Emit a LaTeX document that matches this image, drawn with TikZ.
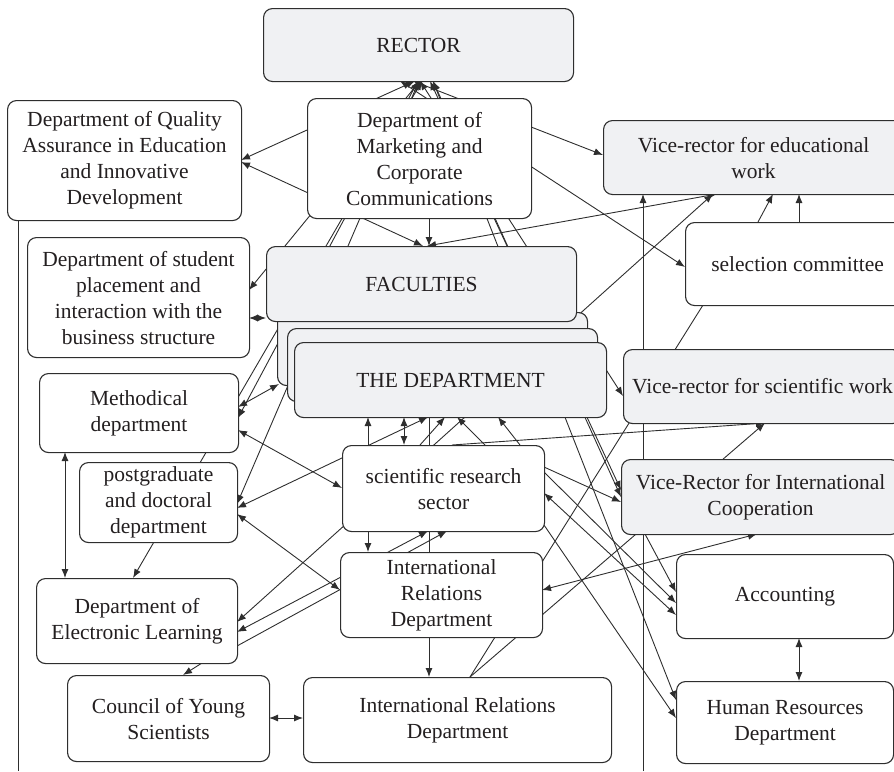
\documentclass[tikz,border=0pt]{standalone}
\usepackage{fontspec}
\setmainfont{Liberation Serif}
\usetikzlibrary{arrows.meta}
\pgfdeclarelayer{bg}
\pgfsetlayers{bg,main}
\definecolor{linec}{HTML}{2E2E2E}
\definecolor{boxgray}{HTML}{F0F1F3}
\definecolor{txt}{HTML}{231F20}
\newcommand\fsz{\fontsize{21.5}{26}\selectfont}
\begin{document}
\begin{tikzpicture}[x=1pt,y=-1pt,
  box/.style={draw=linec, line width=1.1pt, rounded corners=9pt, fill=white, align=center,
              font=\fsz, text=txt, inner sep=2pt, anchor=north west},
  gbox/.style={box, fill=boxgray},
  con/.style={draw=linec, line width=0.9pt},
  arr/.style={con, -{Latex[length=9pt,width=7pt]}},
  darr/.style={con, {Latex[length=9pt,width=7pt]}-{Latex[length=9pt,width=7pt]}}]
\useasboundingbox (0,0) rectangle (894,771);
% nodes
\node[gbox, minimum width=310pt, minimum height=73pt] (rector) at (263,8) {RECTOR};
\node[box, minimum width=224pt, minimum height=120pt] (mkt) at (307,98) {Department of\\Marketing and\\Corporate\\Communications};
\node[box, minimum width=234pt, minimum height=120pt] (qual) at (7,100) {Department of Quality\\Assurance in Education\\and Innovative\\Development};
\node[gbox, minimum width=300pt, minimum height=74pt] (vre) at (603,120) {Vice-rector for educational\\work};
\node[box, minimum width=224pt, minimum height=83pt] (sel) at (685,222) {selection committee};
\node[box, minimum width=222pt, minimum height=120pt] (place) at (27,237) {Department of student\\placement and\\interaction with the\\business structure};
\node[gbox, minimum width=310pt, minimum height=73pt] (st2) at (277,312) {};
\node[gbox, minimum width=310pt, minimum height=73pt] (st3) at (287,328) {};
\node[gbox, minimum width=312pt, minimum height=75pt] (dept) at (294,342) {THE DEPARTMENT};
\node[gbox, minimum width=310pt, minimum height=75pt] (fac) at (266,246) {FACULTIES};
\node[gbox, minimum width=278pt, minimum height=74pt] (vrs) at (623,349) {Vice-rector for scientific work};
\node[box, minimum width=199pt, minimum height=79pt] (meth) at (39,373) {Methodical\\department};
\node[box, minimum width=158pt, minimum height=80pt, inner sep=0pt] (pg) at (79,462) {postgraduate\\and doctoral\\department};
\node[box, minimum width=202pt, minimum height=86pt] (srs) at (342,445) {scientific research\\sector};
\node[gbox, minimum width=278pt, minimum height=75pt] (vri) at (621,459) {Vice-Rector for International\\Cooperation};
\node[box, minimum width=202pt, minimum height=85pt] (irm) at (340,552) {International\\Relations\\Department};
\node[box, minimum width=217pt, minimum height=84pt] (acc) at (676,554) {Accounting};
\node[box, minimum width=201pt, minimum height=85pt] (el) at (36,578) {Department of\\Electronic Learning};
\node[box, minimum width=217pt, minimum height=82pt] (hr) at (676,681) {Human Resources\\Department};
\node[box, minimum width=202pt, minimum height=86pt] (council) at (67,675) {Council of Young\\Scientists};
\node[box, minimum width=308pt, minimum height=85pt] (irb) at (303,677) {International Relations\\Department};
\coordinate (rb) at (643,771);
\coordinate (lb) at (18,771);
% connectors
\begin{pgfonlayer}{bg}
\draw[darr] ([shift={(152,73)}]rector.north west) -- ([shift={(234,60)}]qual.north west);
\draw[darr] ([shift={(234,62)}]qual.north west) -- ([shift={(157,0)}]fac.north west);
\draw[darr] ([shift={(150,73)}]rector.north west) -- ([shift={(0,35)}]vre.north west);
\draw[darr] ([shift={(137,73)}]rector.north west) -- ([shift={(0,45)}]sel.north west);
\draw[darr] ([shift={(161,0)}]fac.north west) -- ([shift={(114,74)}]vre.north west);
\draw[darr] ([shift={(201,44)}]el.north west) -- ([shift={(110,74)}]vre.north west);
\draw[darr] ([shift={(157,73)}]rector.north west) -- ([shift={(222,53)}]place.north west);
\draw[darr] ([shift={(159,73)}]rector.north west) -- ([shift={(97,0)}]el.north west);
\draw[darr] ([shift={(155,73)}]rector.north west) -- ([shift={(199,45)}]meth.north west);
\draw[darr] ([shift={(156,73)}]rector.north west) -- ([shift={(158,42)}]pg.north west);
\draw[darr] ([shift={(157,73)}]rector.north west) -- ([shift={(0,47)}]vrs.north west);
\draw[darr] ([shift={(167,73)}]rector.north west) -- ([shift={(0,31)}]vri.north west);
\draw[darr] ([shift={(170,73)}]rector.north west) -- ([shift={(0,38)}]vri.north west);
\draw[darr] ([shift={(170,73)}]rector.north west) -- ([shift={(0,19)}]hr.north west);
\draw[arr] ([shift={(122,120)}]mkt.north west) -- ([shift={(163,0)}]fac.north west);
\draw[arr] ([shift={(135,75)}]dept.north west) -- ([shift={(126,0)}]irb.north west);
\draw[darr] ([shift={(222,81)}]place.north west) -- ([shift={(0,72)}]fac.north west);
\draw[darr] ([shift={(199,34)}]meth.north west) -- ([shift={(2,72)}]st2.north west);
\draw[darr] ([shift={(199,57)}]meth.north west) -- ([shift={(0,43)}]srs.north west);
\draw[darr] ([shift={(158,46)}]pg.north west) -- ([shift={(134,75)}]dept.north west);
\draw[darr] ([shift={(158,52)}]pg.north west) -- ([shift={(0,38)}]irm.north west);
\draw[darr] ([shift={(26,79)}]meth.north west) -- ([shift={(29,0)}]el.north west);
\draw[arr] ([shift={(166,85)}]el.north west) -- ([shift={(116,0)}]council.north west);
\draw[darr] ([shift={(202,43)}]council.north west) -- ([shift={(0,41)}]irb.north west);
\draw[darr] ([shift={(201,54)}]el.north west) -- ([shift={(86,86)}]srs.north west);
\draw[arr] ([shift={(201,68)}]el.north west) -- ([shift={(105,86)}]srs.north west);
\draw[arr] ([shift={(26,86)}]srs.north west) -- ([shift={(28,0)}]irm.north west);
\draw[arr] ([shift={(26,0)}]srs.north west) -- ([shift={(74,75)}]dept.north west);
\draw[darr] ([shift={(62,0)}]srs.north west) -- ([shift={(110,75)}]dept.north west);
\draw[arr] ([shift={(78,0)}]srs.north west) -- ([shift={(151,75)}]dept.north west);
\draw[arr] ([shift={(143,0)}]srs.north west) -- ([shift={(163,75)}]dept.north west);
\draw[arr] ([shift={(178,0)}]srs.north west) -- ([shift={(204,75)}]dept.north west);
\draw[arr] ([shift={(110,0)}]srs.north west) -- ([shift={(142,74)}]vrs.north west);
\draw[arr] ([shift={(202,22)}]srs.north west) -- ([shift={(0,43)}]vri.north west);
\draw[arr] ([shift={(202,27)}]srs.north west) -- ([shift={(0,49)}]acc.north west);
\draw[darr] ([shift={(202,48)}]srs.north west) -- ([shift={(0,61)}]acc.north west);
\draw[arr] ([shift={(202,80)}]srs.north west) -- ([shift={(0,37)}]hr.north west);
\draw[arr] ([shift={(24,75)}]vri.north west) -- ([shift={(0,38)}]acc.north west);
\draw[darr] ([shift={(202,38)}]irm.north west) -- ([shift={(136,75)}]vri.north west);
\draw[con] ([shift={(167,0)}]irb.north west) -- ([shift={(18,83)}]sel.north west);
\draw[arr] ([shift={(167,0)}]irb.north west) -- ([shift={(142,74)}]vrs.north west);
\draw[arr] ([shift={(73,0)}]sel.north west) -- ([shift={(170,74)}]vre.north west);
\draw[arr] ([shift={(114,0)}]sel.north west) -- ([shift={(196,74)}]vre.north west);
\draw[darr] ([shift={(123,84)}]acc.north west) -- ([shift={(123,0)}]hr.north west);
\draw[arr] (rb) -- ([shift={(40,74)}]vre.north west);
\draw[con] ([shift={(11,120)}]qual.north west) -- (lb);
\end{pgfonlayer}
\end{tikzpicture}
\end{document}
